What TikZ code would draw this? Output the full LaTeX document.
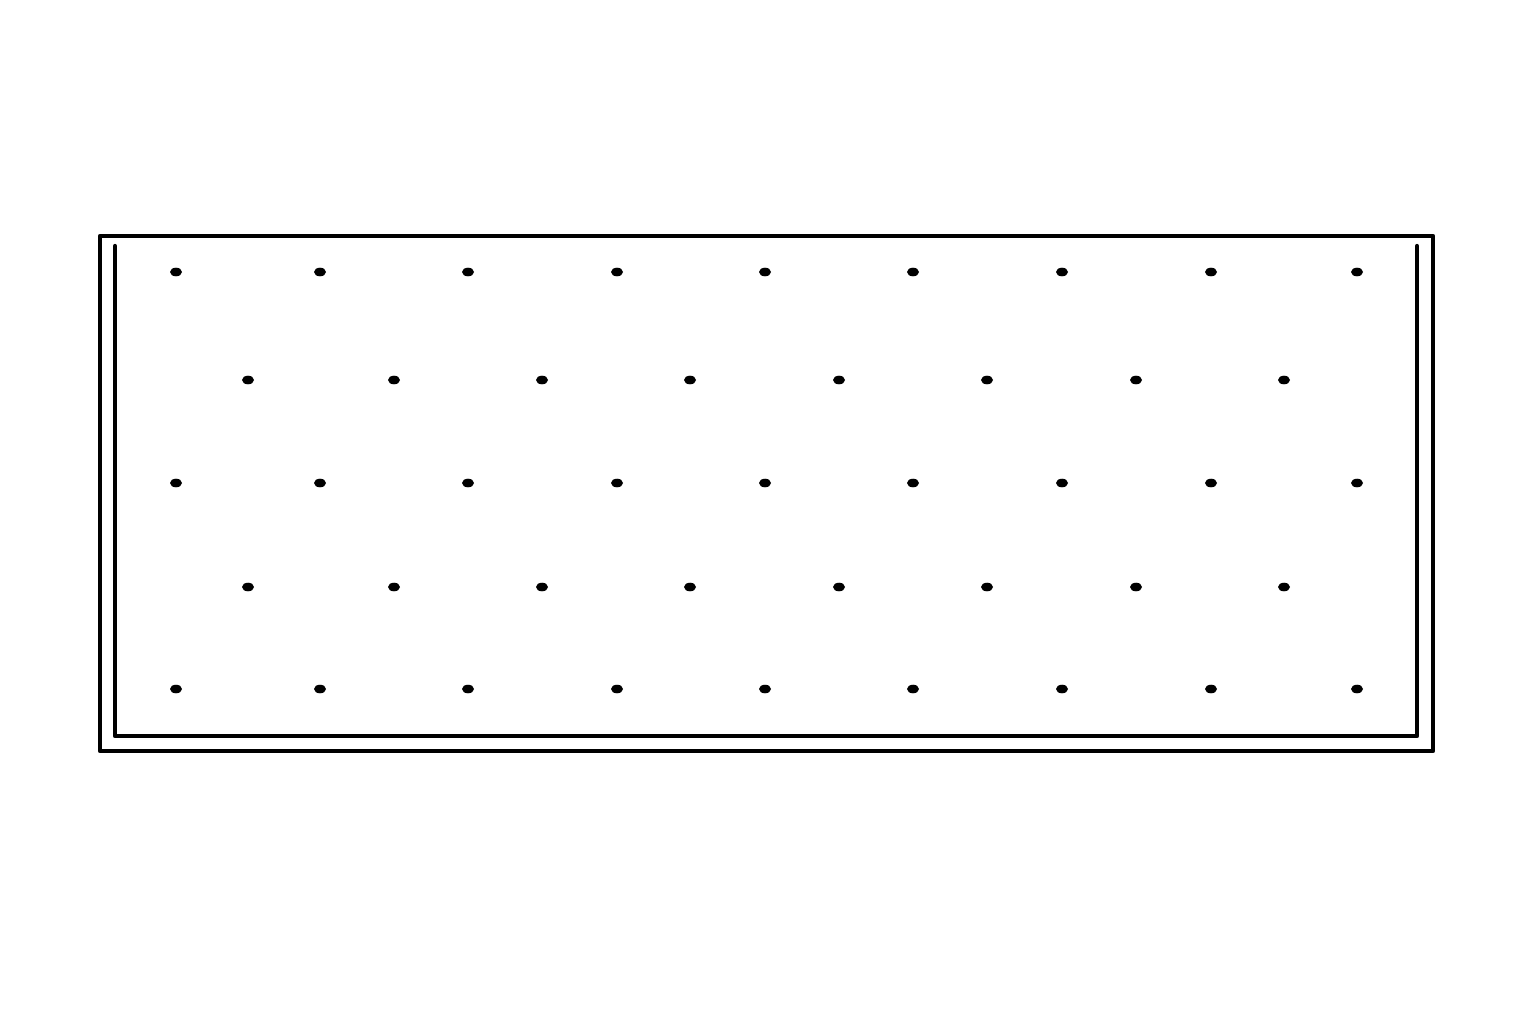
\documentclass[tikz,border=0pt]{standalone}
\begin{document}
\begin{tikzpicture}[x=0.5pt,y=-0.5pt,
  frame/.style={line width=2.2pt,line join=round,line cap=round},
  dot/.style={fill=black}]
\useasboundingbox (0,0) rectangle (1536,1024);
\draw[frame] (100,236) rectangle (1433,751);
\draw[frame] (115,246) -- (115,736) -- (1417,736) -- (1417,246);
\foreach \y in {272,483,689}{
  \foreach \x in {176,320,468,617,765,913,1062,1211,1357}{
    \fill[dot] (\x,\y) ellipse [x radius=6,y radius=4.3];
  }
}
\foreach \y in {380,587}{
  \foreach \x in {248,394,542,690,839,987,1136,1284}{
    \fill[dot] (\x,\y) ellipse [x radius=6,y radius=4.3];
  }
}
\end{tikzpicture}
\end{document}
